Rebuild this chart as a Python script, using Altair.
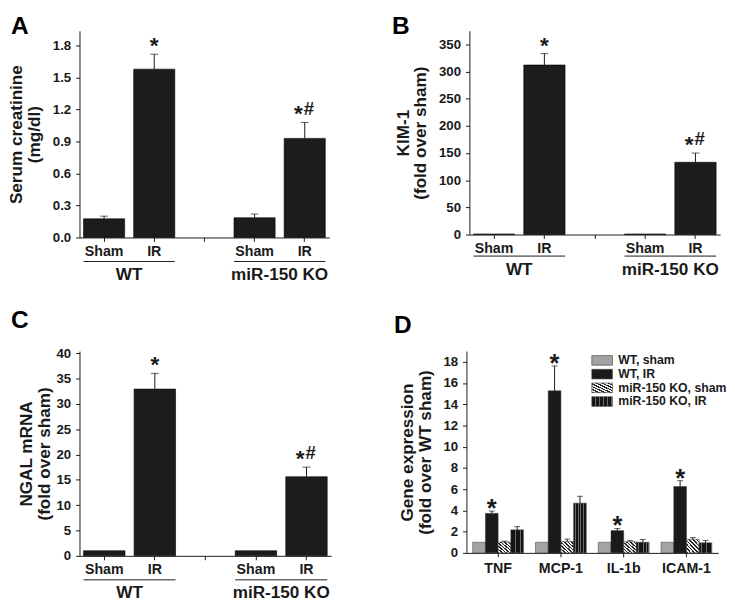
import altair as alt
import pandas as pd

FONT = "Liberation Sans"
INK = "#1a1a1a"
PAD_IN = 0.18
PAD_OUT = 0.08

# ---------------- panels A-C: shared categories ----------------
conditions = ["WT|Sham", "WT|IR", "KO|Sham", "KO|IR"]
x_domain = ["WT|Sham", "WT|IR", "gap", "KO|Sham", "KO|IR"]
groups = ["WT", "miR-150 KO"]
group_start = ["WT|Sham", "KO|Sham"]
group_end = ["WT|IR", "KO|IR"]
star_marks = ["", "*", "", "*"]
hash_marks = ["", "", "", "#"]

# Panel A: serum creatinine (mg/dl)
creat_mean = [0.175, 1.58, 0.185, 0.93]
creat_err = [0.20, 1.72, 0.22, 1.08]
creat_ticks = [0.0, 0.3, 0.6, 0.9, 1.2, 1.5, 1.8]

# Panel B: KIM-1 (fold over sham)
kim_mean = [1.0, 312.0, 1.0, 133.0]
kim_err = [None, 333.0, None, 150.0]
kim_ticks = [0, 50, 100, 150, 200, 250, 300, 350]

# Panel C: NGAL mRNA (fold over sham)
ngal_mean = [1.0, 32.9, 1.0, 15.6]
ngal_err = [None, 36.0, None, 17.5]
ngal_ticks = [0, 5, 10, 15, 20, 25, 30, 35, 40]

# ---------------- panel D ----------------
genes = ["TNF", "MCP-1", "IL-1b", "ICAM-1"]
series = ["WT, sham", "WT, IR", "miR-150 KO, sham", "miR-150 KO, IR"]
wt_sham = [1.0, 1.0, 1.0, 1.0]
wt_ir = [3.72, 15.26, 2.1, 6.24]
ko_sham = [1.02, 1.08, 1.05, 1.28]
ko_ir = [2.17, 4.68, 1.0, 0.95]
wt_sham_err = [None, None, None, None]
wt_ir_err = [3.94, 17.6, 2.29, 6.8]
ko_sham_err = [1.1, 1.3, 1.15, 1.44]
ko_ir_err = [2.47, 5.33, 1.26, 1.18]
wt_ir_stars = ["*", "*", "*", "*"]
gene_ticks = [0, 2, 4, 6, 8, 10, 12, 14, 16, 18]


def stripes(c1, c2, n, x1, y1, x2, y2, frac=0.5):
    stops = []
    for k in range(n):
        a = k / n
        b = (k + frac) / n
        c = (k + 1) / n
        stops += [(a, c1), (b, c1), (b, c2), (c, c2)]
    s = ",".join("{offset:%.4f,color:'%s'}" % (o, col) for o, col in stops)
    return "{gradient:'linear',x1:%s,y1:%s,x2:%s,y2:%s,stops:[%s]}" % (x1, y1, x2, y2, s)


hatch_fill = stripes("#262626", "#eeeeee", 7, 0, 1, 1, 0, 0.45)
check_fill = stripes("#151515", "#6a6a6a", 5, 0, 0, 1, 0, 0.7)
series_colors = ["#a3a3a3", "#1a1a1a", alt.ExprRef(hatch_fill), alt.ExprRef(check_fill)]


def y_axis(title, ticks, fmt, tpad):
    return alt.Axis(title=title, values=ticks, tickCount=len(ticks) + 2, format=fmt,
                    grid=False, tickSize=4, labelPadding=5, titlePadding=tpad,
                    titleFontSize=17.5, titleLineHeight=18, labelFontSize=13.5,
                    labelOverlap=False)


def bar_panel(letter, mean, err, ytitle, ymax, ticks, fmt, W, H, t_off, t_dx,
              tpad, under_off, group_off):
    df = pd.DataFrame({"cond": conditions, "mean": mean, "err": err,
                       "star": star_marks, "hash": hash_marks})
    gdf = pd.DataFrame({"group": groups, "start": group_start, "end": group_end})
    xs = alt.Scale(domain=x_domain, paddingInner=PAD_IN, paddingOuter=PAD_OUT)
    ys = alt.Scale(domain=[0, ymax], nice=False, zero=True)
    step = W / (len(x_domain) - PAD_IN + 2 * PAD_OUT)
    half_gap = PAD_IN * step / 2
    xaxis = alt.Axis(title=None, labelAngle=0, grid=False, tickSize=4, labelPadding=3,
                     labelFontSize=14.5, labelOverlap=False,
                     labelExpr="indexof(datum.label,'|') >= 0 ? split(datum.label,'|')[1] : ''")
    base = alt.Chart(df)
    bars = base.mark_bar(color="#1c1c1c", stroke="#000000", strokeWidth=0.6).encode(
        x=alt.X("cond:N", scale=xs, axis=xaxis),
        y=alt.Y("mean:Q", scale=ys, axis=y_axis(ytitle, ticks, fmt, tpad)),
    )
    valid = base.transform_filter("isValid(datum.err)")
    ebar = valid.mark_rule(color=INK, strokeWidth=1).encode(
        x="cond:N", y="mean:Q", y2="err:Q")
    caps = valid.mark_tick(color=INK, thickness=1, size=8).encode(x="cond:N", y="err:Q")
    solo = base.transform_filter("datum.star == '*' && datum.hash == ''").mark_text(
        fontSize=23, fontWeight="bold", baseline="alphabetic", dy=-1, color=INK
    ).encode(x="cond:N", y="err:Q", text="star:N")
    pstar = base.transform_filter("datum.hash == '#'").mark_text(
        fontSize=23, fontWeight="bold", baseline="alphabetic", align="right", dx=-2, dy=-1,
        color=INK).encode(x="cond:N", y="err:Q", text="star:N")
    phash = base.transform_filter("datum.hash == '#'").mark_text(
        fontSize=19, fontWeight="bold", baseline="alphabetic", align="left", dx=-1, dy=-8,
        color=INK).encode(x="cond:N", y="err:Q", text="hash:N")
    under = alt.Chart(gdf).mark_rule(color=INK, strokeWidth=1).encode(
        x=alt.X("start:N", bandPosition=0),
        x2=alt.X2("end:N", bandPosition=1),
        y=alt.value(H + under_off),
    )
    gtext = alt.Chart(gdf).mark_text(fontSize=17.5, fontWeight="bold", baseline="alphabetic",
                                     color=INK, dx=half_gap).encode(
        x=alt.X("start:N", bandPosition=1),
        y=alt.value(H + group_off),
        text="group:N",
    )
    return alt.layer(bars, ebar, caps, solo, pstar, phash, under, gtext).properties(
        width=W, height=H,
        title=alt.TitleParams(letter, anchor="start", frame="group", fontSize=25,
                              fontWeight="bold", dx=t_dx, offset=t_off, color="#000000"),
    )


A = bar_panel("A", creat_mean, creat_err, ["Serum creatinine", "(mg/dl)"], 1.94,
              creat_ticks, ".1f", 255, 211, -8.7, -70, 9, 24.5, 43)
B = bar_panel("B", kim_mean, kim_err, ["KIM-1", "(fold over sham)"], 375,
              kim_ticks, "d", 256, 208, -8.7, -79, 9, 22, 41.5)
C = bar_panel("C", ngal_mean, ngal_err, ["NGAL mRNA", "(fold over sham)"], 40.4,
              ngal_ticks, "d", 257, 209, 13.4, -70, 3, 24.5, 43)

# ---------------- panel D ----------------
rows = []
for s, vals, errs in zip(series, [wt_sham, wt_ir, ko_sham, ko_ir],
                         [wt_sham_err, wt_ir_err, ko_sham_err, ko_ir_err]):
    for i, g in enumerate(genes):
        rows.append({"gene": g, "series": s, "mean": vals[i], "err": errs[i],
                     "star": wt_ir_stars[i] if s == "WT, IR" else ""})
ddf = pd.DataFrame(rows)

gx = alt.Scale(domain=genes, paddingInner=0.19, paddingOuter=0.1)
gxo = alt.Scale(domain=series)
gy = alt.Scale(domain=[0, 19], nice=False, zero=True)
dbase = alt.Chart(ddf)
dbars = dbase.mark_bar(stroke="#333333", strokeWidth=0.5).encode(
    x=alt.X("gene:N", scale=gx, sort=genes,
            axis=alt.Axis(title=None, labelAngle=0, grid=False, tickSize=4, labelPadding=5,
                          labelFontSize=14.5, labelOverlap=False)),
    xOffset=alt.XOffset("series:N", scale=gxo, sort=series),
    y=alt.Y("mean:Q", scale=gy,
            axis=y_axis(["Gene expression", "(fold over WT sham)"], gene_ticks, "d", 9)),
    color=alt.Color("series:N", scale=alt.Scale(domain=series, range=series_colors),
                    legend=alt.Legend(orient="none", legendX=131, legendY=2, title=None,
                                      padding=0,
                                      symbolType="M-1.5,-0.7H1.5V0.7H-1.5Z", symbolSize=196,
                                      symbolStrokeColor="#333333", symbolStrokeWidth=0.6,
                                      labelFontSize=12.5, labelFontWeight="bold",
                                      labelColor=INK, labelOffset=9, rowPadding=0,
                                      labelFont=FONT)),
)
dvalid = dbase.transform_filter("isValid(datum.err)")
debar = dvalid.mark_rule(color=INK, strokeWidth=1).encode(
    x="gene:N", xOffset="series:N", y="mean:Q", y2="err:Q")
dcaps = dvalid.mark_tick(color=INK, thickness=1, size=6).encode(
    x="gene:N", xOffset="series:N", y="err:Q")
dstars = dbase.transform_filter("datum.star != ''").mark_text(
    fontSize=26, fontWeight="bold", baseline="alphabetic", dy=6, color=INK
).encode(x="gene:N", xOffset="series:N", y="err:Q", text="star:N")
D = alt.layer(dbars, debar, dcaps, dstars).properties(
    width=257, height=206,
    title=alt.TitleParams("D", anchor="start", frame="group", fontSize=25, fontWeight="bold",
                          dx=-74, offset=13.4, color="#000000"),
)

top = alt.hconcat(A, B, spacing=64)
bottom = alt.hconcat(C, D, spacing=64).resolve_scale(color="independent").resolve_legend(
    color="independent")
chart = alt.vconcat(top, bottom, spacing=25).resolve_scale(color="independent").resolve_legend(
    color="independent").properties(
    padding={"left": 0, "top": 0, "right": 0, "bottom": 0}
).configure(font=FONT).configure_view(stroke=None).configure_axis(
    labelFont=FONT, titleFont=FONT, labelFontWeight="bold", titleFontWeight="bold",
    labelColor=INK, titleColor=INK, domainColor=INK, tickColor=INK, domainWidth=1,
    tickWidth=1,
).configure_title(font=FONT)

chart.save("out.html", embed_options={"renderer": "svg", "actions": False})
